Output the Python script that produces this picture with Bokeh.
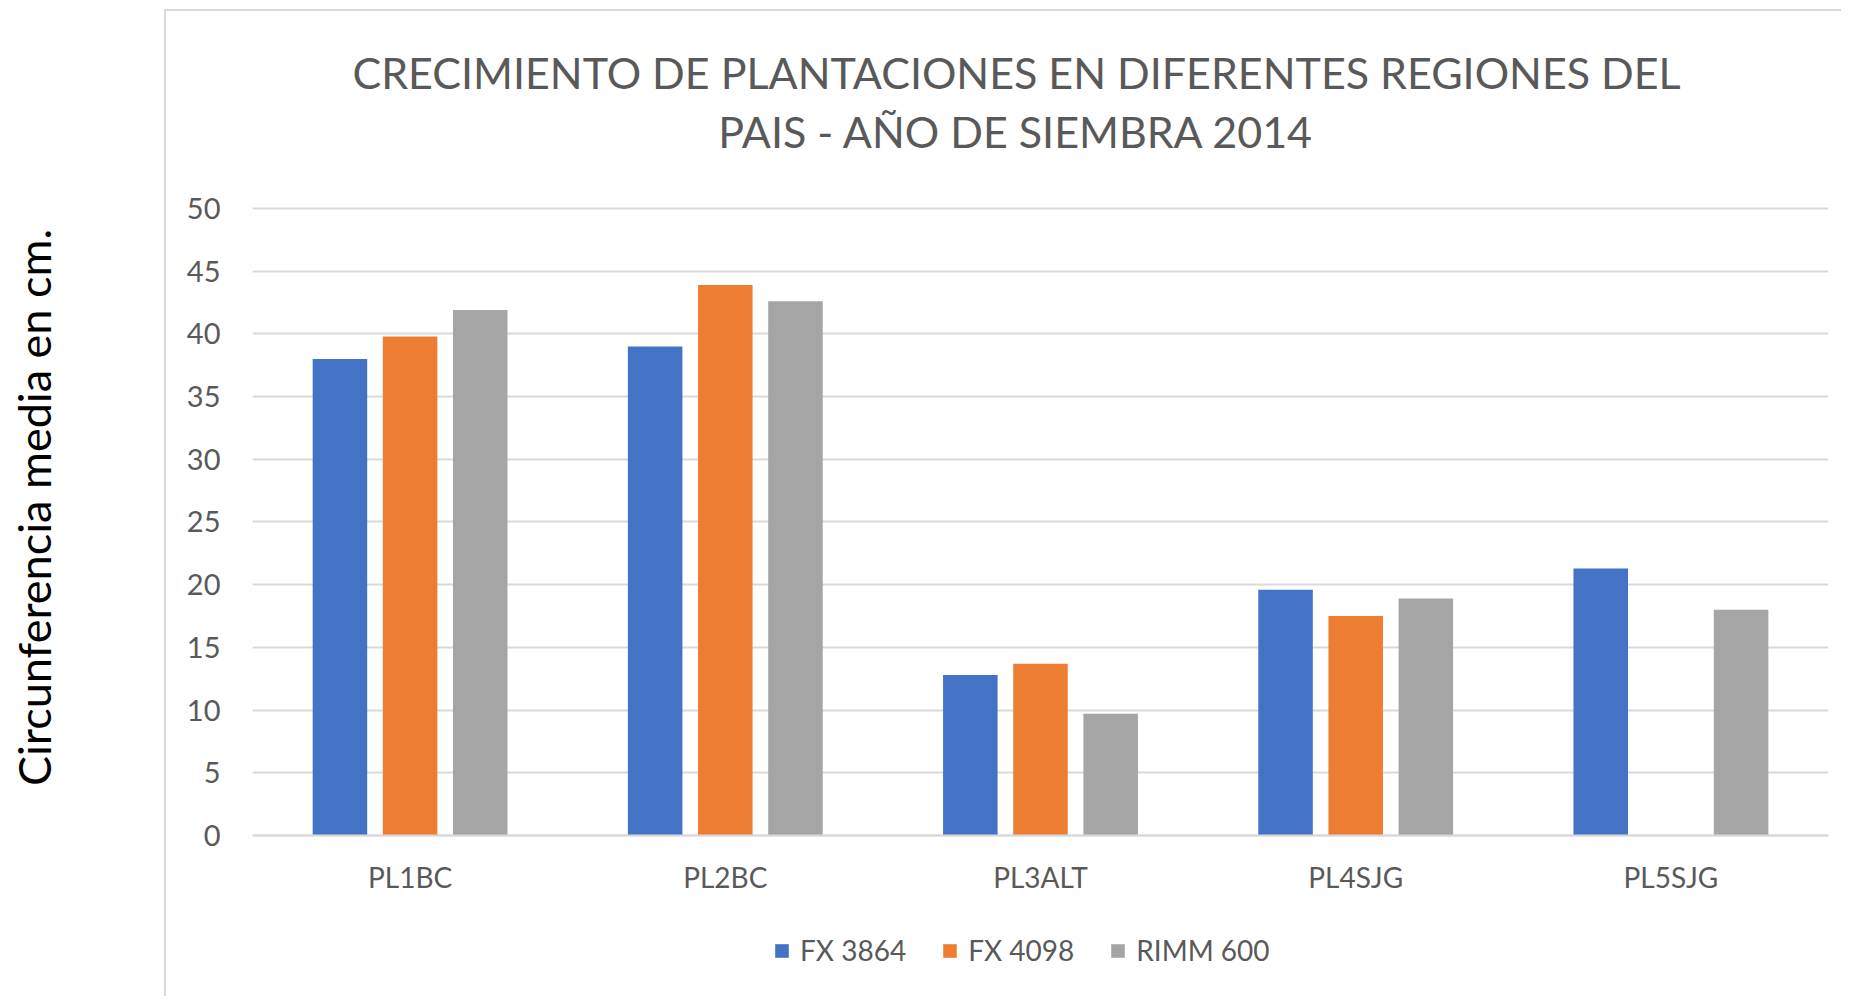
from bokeh.plotting import figure
from bokeh.models import (FactorRange, Range1d, Legend, LegendItem, Label,
                          ColumnDataSource, FixedTicker)
from bokeh.transform import dodge
from bokeh.embed import file_html
from bokeh.resources import INLINE

# ---- data ----
categories = ["PL1BC", "PL2BC", "PL3ALT", "PL4SJG", "PL5SJG"]
fx3864 = [38.0, 39.0, 12.8, 19.6, 21.3]
fx4098 = [39.8, 43.9, 13.7, 17.5, float("nan")]  # no value for PL5SJG
rimm600 = [41.9, 42.6, 9.7, 18.9, 18.0]
series_names = ["FX 3864", "FX 4098", "RIMM 600"]
y_ticks = [0, 5, 10, 15, 20, 25, 30, 35, 40, 45, 50]
title_lines = ["CRECIMIENTO DE PLANTACIONES EN DIFERENTES REGIONES DEL",
               "PAIS - AÑO DE SIEMBRA 2014"]
y_label = "Circunferencia media en cm."

FONT = "Lato"
TXT = "#595959"
GRID = "#D9D9D9"
colors = ["#4472C4", "#ED7D31", "#A5A5A5"]

src = ColumnDataSource(dict(cat=categories, a=fx3864, b=fx4098, c=rimm600))

# the frame spans the whole chart height; value 0 sits at the bottom of the bars
p = figure(x_range=FactorRange(*categories, range_padding=0, factor_padding=0),
           y_range=Range1d(-12.84, 65.15),
           width=1841, height=996, output_backend="svg", toolbar_location=None,
           min_border_left=252, min_border_right=13, min_border_top=18,
           min_border_bottom=0)
p.outline_line_color = None
p.background_fill_color = "white"
p.border_fill_color = None
# outer chart-area border (left and top edges visible in the picture)
p.styles = {
    "background-color": "white",
    "background-image": f"linear-gradient({GRID},{GRID}), linear-gradient({GRID},{GRID})",
    "background-size": "2px 100%, 100% 2px",
    "background-position": "164px 9px, 164px 9px",
    "background-repeat": "no-repeat",
}

BW = 0.173
OFF = 0.2226
renderers = []
for key, off, col in zip(["a", "b", "c"], [-OFF, 0.0, OFF], colors):
    r = p.vbar(x=dodge("cat", off, range=p.x_range), top=key, width=BW, source=src,
               fill_color=col, line_color=None)
    renderers.append(r)

# axes
p.yaxis.ticker = FixedTicker(ticks=y_ticks)
p.yaxis.axis_line_color = None
p.yaxis.major_tick_line_color = None
p.yaxis.minor_tick_line_color = None
p.yaxis.major_label_standoff = 26
p.yaxis.major_label_text_font = FONT
p.yaxis.major_label_text_font_size = "29px"
p.yaxis.major_label_text_color = TXT
p.yaxis.axis_label = y_label
p.yaxis.axis_label_standoff = 123
p.yaxis.axis_label_text_font = FONT
p.yaxis.axis_label_text_font_size = "45px"
p.yaxis.axis_label_text_font_style = "normal"
p.yaxis.axis_label_text_color = "#000000"

p.xaxis.fixed_location = 0
p.xaxis.axis_line_color = GRID
p.xaxis.axis_line_width = 2
p.xaxis.major_tick_line_color = None
p.xaxis.minor_tick_line_color = None
p.xaxis.major_label_standoff = 19
p.xaxis.major_label_text_font = FONT
p.xaxis.major_label_text_font_size = "28px"
p.xaxis.major_label_text_color = TXT

p.xgrid.grid_line_color = None
p.ygrid.ticker = FixedTicker(ticks=y_ticks)
p.ygrid.grid_line_color = GRID
p.ygrid.grid_line_width = 2

# title (two lines)
for txt, yy in zip(title_lines, [60.85, 56.14]):
    p.add_layout(Label(x=2.424, y=yy, text=txt, text_align="center",
                       text_baseline="middle", text_font=FONT,
                       text_font_size="43px", text_color=TXT))

legend = Legend(items=[LegendItem(label=n, renderers=[r]) for n, r in zip(series_names, renderers)],
                orientation="horizontal", location=(521, 29),
                glyph_width=17, glyph_height=17, label_standoff=10, spacing=35,
                label_text_font=FONT, label_text_font_size="28px",
                label_text_color=TXT, label_text_baseline="alphabetic",
                border_line_color=None, background_fill_alpha=0,
                padding=0, margin=0)
p.add_layout(legend, "center")

open("out.html", "w").write(file_html(p, INLINE))
